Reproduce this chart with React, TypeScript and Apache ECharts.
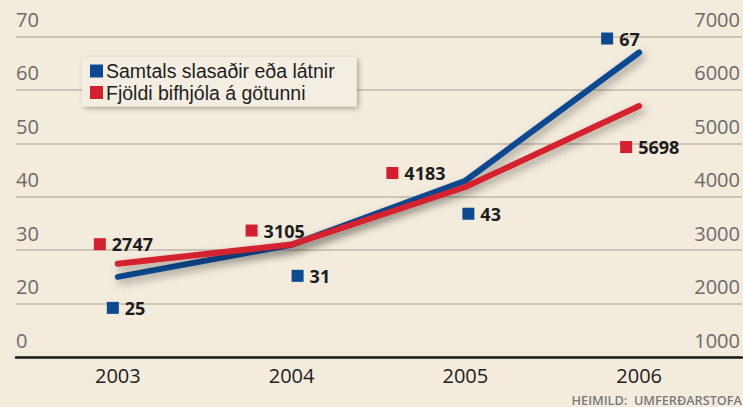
import React, { useEffect, useRef } from "react";
import * as echarts from "echarts";

const years = [2003, 2004, 2005, 2006];
const injured = [25, 31, 43, 67];
const motorcycles = [2747, 3105, 4183, 5698];
const leftTickLabels = ["0", "20", "30", "40", "50", "60", "70"];
const rightTickLabels = ["1000", "2000", "3000", "4000", "5000", "6000", "7000"];
const seriesNames = ["Samtals slasaðir eða látnir", "Fjöldi bifhjóla á götunni"];
const sourceText = "HEIMILD:  UMFERÐARSTOFA";

// annotation offsets (px) of the labelled squares relative to their data point
const blueOffsets = [[-5, 31], [6, 31], [3, 33], [-32, -14]];
const redOffsets = [[-18, -19.5], [-40, -14], [-73, -14], [-13, 41]];

const BLUE = "#0d4a90";
const RED = "#d4202e";
const BG = "#f3ebdc";
const FONT = "'Open Sans', 'Noto Sans', sans-serif";
const LEGEND_FONT = "'Liberation Sans', Arial, sans-serif";

export default function App() {
  const ref = useRef<HTMLDivElement>(null);
  useEffect(() => {
    if (!ref.current) return;
    const chart = echarts.init(ref.current, undefined, { renderer: "svg" });
    const lineShadow = {
      shadowBlur: 8,
      shadowColor: "rgba(0,0,0,0.35)",
      shadowOffsetX: 3,
      shadowOffsetY: 4,
    };
    const markLabel = {
      show: true,
      position: "right",
      distance: 6,
      fontFamily: FONT,
      fontWeight: "bold",
      fontSize: 18,
      color: "#1c1c1c",
      formatter: (p: any) => String(p.value[1]),
    };
    chart.setOption({
      animation: false,
      backgroundColor: BG,
      textStyle: { fontFamily: FONT },
      grid: { left: 16, right: 0, top: 36.5, bottom: 50, containLabel: false },
      legend: {
        data: seriesNames,
        orient: "vertical",
        left: 82,
        top: 57,
        icon: "rect",
        itemWidth: 13,
        itemHeight: 13,
        itemGap: 1.5,
        padding: [4, 22, 4, 8],
        backgroundColor: "#f4ede1",
        shadowBlur: 5,
        shadowColor: "rgba(0,0,0,0.3)",
        shadowOffsetX: 2,
        shadowOffsetY: 2,
        textStyle: { fontFamily: LEGEND_FONT, fontSize: 19.5, color: "#1e1e1e", lineHeight: 20, padding: [0, 0, 0, -2] },
      },
      xAxis: {
        type: "value",
        min: 2002.414,
        max: 2006.592,
        axisLine: { show: true, lineStyle: { color: "#1a1a1a", width: 2.5 } },
        axisTick: { show: false },
        splitLine: { show: false },
        axisLabel: {
          customValues: years,
          formatter: (v: number) => String(v),
          color: "#222",
          fontSize: 20,
          fontFamily: FONT,
          margin: 8,
        },
      },
      yAxis: [
        {
          type: "value",
          position: "left",
          min: 10,
          max: 70,
          interval: 10,
          axisLine: { show: false },
          axisTick: { show: false },
          splitLine: { show: true, lineStyle: { color: "#cdc5b7", width: 2 } },
          axisLabel: {
            inside: true,
            margin: 0,
            align: "left",
            verticalAlign: "bottom",
            padding: [0, 0, 7, 0],
            color: "#6b6b6b",
            fontSize: 20,
            fontFamily: FONT,
            formatter: (_v: number, i: number) => leftTickLabels[i],
          },
        },
        {
          type: "value",
          position: "right",
          min: 1000,
          max: 7000,
          interval: 1000,
          axisLine: { show: false },
          axisTick: { show: false },
          splitLine: { show: false },
          axisLabel: {
            inside: true,
            margin: 2,
            align: "right",
            verticalAlign: "bottom",
            padding: [0, 0, 7, 0],
            color: "#6b6b6b",
            fontSize: 20,
            fontFamily: FONT,
            formatter: (_v: number, i: number) => rightTickLabels[i],
          },
        },
      ],
      series: [
        {
          name: seriesNames[0],
          type: "line",
          yAxisIndex: 0,
          data: years.map((y, i) => [y, injured[i]]),
          symbol: "none",
          color: BLUE,
          lineStyle: { color: BLUE, width: 6, cap: "round", join: "round", ...lineShadow },
          z: 3,
        },
        {
          name: seriesNames[1],
          type: "line",
          yAxisIndex: 1,
          data: years.map((y, i) => [y, motorcycles[i]]),
          symbol: "none",
          color: RED,
          lineStyle: { color: RED, width: 6, cap: "round", join: "round", ...lineShadow },
          z: 4,
        },
        {
          name: "injuredMarks",
          type: "scatter",
          yAxisIndex: 0,
          symbol: "rect",
          symbolSize: 12,
          itemStyle: { color: BLUE, opacity: 1 },
          label: markLabel,
          data: years.map((y, i) => ({ value: [y, injured[i]], symbolOffset: blueOffsets[i] })),
          z: 5,
        },
        {
          name: "bikeMarks",
          type: "scatter",
          yAxisIndex: 1,
          symbol: "rect",
          symbolSize: 12,
          itemStyle: { color: RED, opacity: 1 },
          label: markLabel,
          data: years.map((y, i) => ({ value: [y, motorcycles[i]], symbolOffset: redOffsets[i] })),
          z: 5,
        },
      ],
      graphic: [
        {
          type: "text",
          right: 1,
          bottom: 1,
          style: {
            text: sourceText,
            fontFamily: FONT,
            fontSize: 12.7,
            fontWeight: 600,
            fill: "#7b7b7b",
          },
        },
      ],
    });
    return () => chart.dispose();
  }, []);
  return (
    <div
      ref={ref}
      style={{ position: "fixed", left: 0, top: 0, width: 743, height: 407 }}
    />
  );
}
